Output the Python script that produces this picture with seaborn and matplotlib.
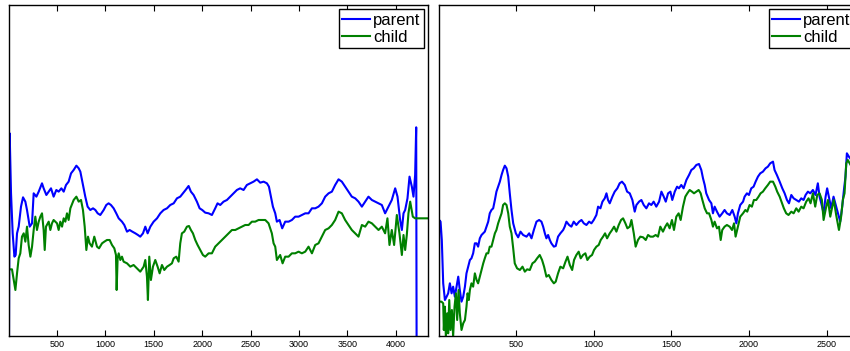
import matplotlib
matplotlib.use("Agg")
import matplotlib.pyplot as plt
import pandas as pd
import seaborn as sns

# ---- panel 1: long sequence ----
left_parent_x = [1, 11, 25, 42, 60, 73, 87, 104, 128, 149, 173, 190, 218, 242, 259, 287, 311, 345, 362, 390,
                 414, 438, 465, 493, 517, 545, 569, 593, 620, 645, 672, 700, 724, 741, 765, 792, 816, 844, 872, 896,
                 920, 947, 982, 1009, 1033, 1057, 1085, 1112, 1137, 1171, 1195, 1223, 1250, 1278, 1309, 1336, 1360, 1388, 1412, 1436,
                 1464, 1498, 1533, 1567, 1601, 1636, 1670, 1705, 1739, 1773, 1801, 1828, 1859, 1883, 1911, 1945, 1973, 2000, 2031, 2066,
                 2100, 2134, 2158, 2186, 2220, 2255, 2289, 2324, 2358, 2392, 2427, 2461, 2496, 2530, 2565, 2599, 2634, 2668, 2689, 2709,
                 2730, 2754, 2771, 2799, 2826, 2857, 2892, 2926, 2960, 2995, 3029, 3064, 3098, 3133, 3167, 3201, 3236, 3270, 3305, 3339,
                 3373, 3408, 3442, 3476, 3511, 3545, 3580, 3614, 3649, 3683, 3717, 3752, 3786, 3821, 3855, 3889, 3924, 3958, 3993, 4017,
                 4044, 4062, 4079, 4096, 4120, 4141, 4165, 4182, 4199, 4210, 4216]
left_parent_y = [-30, 60.8, 42.8, 30.8, 23.8, 24.3, 30.8, 32.8, 38.8, 41.6, 40.3, 37.8, 32.8, 33.8, 42.8, 41.8, 43.3, 45.8, 44.3, 42.3,
                 43.3, 44.3, 41.8, 43.8, 43.3, 44.3, 43.3, 45.3, 46.3, 48.8, 49.8, 51.1, 50.3, 49.3, 45.8, 41.8, 38.8, 37.8, 38.3, 37.8,
                 36.8, 36.3, 37.8, 39.3, 39.8, 39.3, 38.3, 36.8, 35.3, 34.3, 33.3, 31.3, 31.8, 31.3, 30.8, 30.3, 29.8, 30.8, 32.8, 30.8,
                 32.8, 34.3, 35.3, 36.8, 37.8, 38.3, 39.3, 39.8, 41.3, 41.8, 42.8, 43.8, 45.0, 43.3, 42.3, 40.3, 38.3, 37.8, 37.0, 36.8,
                 36.3, 38.3, 39.8, 39.3, 40.3, 40.8, 41.8, 42.8, 43.8, 44.3, 43.8, 45.3, 45.8, 46.3, 47.0, 46.0, 46.3, 45.8, 44.8, 41.8,
                 38.8, 36.8, 34.3, 34.8, 32.3, 34.3, 34.3, 34.8, 35.8, 35.8, 36.3, 36.8, 36.8, 38.3, 38.3, 38.8, 39.8, 41.8, 42.8, 43.3,
                 45.3, 47.0, 46.3, 44.8, 43.3, 41.8, 41.3, 40.3, 38.8, 40.3, 41.8, 40.8, 40.3, 39.8, 39.3, 36.8, 38.8, 40.8, 44.3, 41.8,
                 34.8, 31.8, 36.8, 37.8, 41.3, 47.8, 44.8, 41.8, 48.3, 62.6, -30]

left_child_x = [1, 35, 53, 70, 87, 104, 121, 138, 156, 173, 190, 207, 225, 242, 259, 276, 293, 311, 328, 345,
                362, 373, 386, 414, 431, 448, 465, 500, 517, 534, 552, 569, 586, 603, 620, 638, 672, 700, 724, 748,
                768, 786, 803, 820, 837, 861, 885, 913, 934, 965, 989, 1016, 1044, 1068, 1092, 1109, 1116, 1126, 1137, 1154,
                1171, 1188, 1223, 1257, 1291, 1326, 1360, 1395, 1412, 1429, 1439, 1453, 1470, 1491, 1515, 1539, 1560, 1584, 1608, 1636,
                1663, 1687, 1705, 1732, 1756, 1773, 1790, 1814, 1842, 1863, 1883, 1904, 1928, 1952, 1980, 2007, 2031, 2066, 2100, 2134,
                2169, 2203, 2238, 2272, 2307, 2341, 2375, 2410, 2444, 2479, 2513, 2547, 2582, 2616, 2651, 2685, 2719, 2737, 2754, 2771,
                2805, 2830, 2857, 2892, 2926, 2960, 2995, 3029, 3064, 3098, 3133, 3167, 3201, 3236, 3270, 3305, 3339, 3373, 3408, 3442,
                3476, 3511, 3545, 3580, 3614, 3649, 3683, 3717, 3752, 3786, 3821, 3855, 3889, 3913, 3934, 3958, 3982, 4010, 4037, 4062,
                4079, 4096, 4113, 4130, 4148, 4175, 4199, 4334]
left_child_y = [20.0, 20.0, 16.8, 13.8, 18.8, 23.3, 24.8, 29.8, 30.8, 28.3, 32.8, 27.3, 23.8, 26.8, 31.8, 35.8, 31.8, 34.3, 35.8, 36.8,
                31.8, 25.8, 32.8, 34.3, 31.8, 33.8, 34.8, 33.8, 31.8, 34.3, 32.8, 35.3, 34.3, 36.8, 34.8, 38.3, 40.8, 41.8, 40.3, 40.8,
                37.8, 32.8, 25.8, 29.8, 27.8, 26.8, 29.8, 26.8, 26.3, 27.8, 28.3, 28.8, 28.8, 27.3, 26.3, 24.3, 13.8, 23.3, 24.8, 22.8,
                23.8, 22.3, 21.8, 20.8, 21.3, 20.3, 19.3, 20.8, 22.8, 17.8, 10.8, 23.8, 16.8, 20.8, 22.8, 20.8, 18.8, 21.3, 19.8, 20.8,
                21.3, 21.8, 23.3, 23.8, 22.3, 27.8, 30.8, 31.3, 32.8, 33.0, 31.8, 30.8, 28.8, 27.3, 25.8, 24.3, 23.8, 24.8, 24.8, 26.8,
                27.8, 28.8, 29.8, 30.8, 31.8, 31.8, 32.3, 32.8, 33.3, 33.3, 34.3, 34.3, 34.8, 34.8, 34.8, 33.8, 30.8, 27.8, 26.8, 22.8,
                24.3, 21.8, 23.8, 23.8, 24.8, 24.8, 25.3, 24.8, 25.3, 26.8, 24.8, 27.3, 27.8, 29.8, 31.8, 32.3, 33.3, 34.8, 37.3, 36.8,
                34.8, 33.3, 31.8, 30.8, 29.8, 33.3, 32.8, 34.3, 33.8, 32.8, 31.8, 32.8, 30.8, 35.3, 27.3, 31.8, 27.3, 36.3, 30.8, 24.3,
                30.3, 25.8, 30.3, 36.8, 40.3, 35.8, 35.3, 35.3]

# ---- panel 2: shorter sequence ----
right_parent_x = [1, 4, 13, 21, 30, 41, 52, 62, 73, 84, 94, 105, 116, 127, 137, 148, 159, 170, 180, 191,
                  202, 212, 223, 234, 245, 255, 266, 277, 288, 298, 309, 320, 330, 341, 352, 363, 373, 384, 395, 406,
                  416, 427, 438, 449, 459, 470, 481, 498, 513, 528, 545, 567, 584, 599, 614, 631, 648, 663, 674, 685,
                  695, 706, 717, 727, 743, 755, 770, 785, 803, 813, 824, 841, 856, 871, 888, 906, 921, 936, 953, 970,
                  985, 1000, 1017, 1028, 1043, 1056, 1071, 1082, 1092, 1103, 1120, 1135, 1152, 1167, 1182, 1200, 1215, 1232, 1249, 1264,
                  1275, 1292, 1307, 1322, 1339, 1356, 1371, 1386, 1403, 1421, 1436, 1451, 1464, 1479, 1494, 1506, 1522, 1537, 1549, 1564,
                  1579, 1597, 1614, 1629, 1644, 1661, 1678, 1693, 1704, 1715, 1725, 1743, 1758, 1768, 1779, 1794, 1811, 1828, 1843, 1858,
                  1876, 1893, 1908, 1919, 1929, 1944, 1962, 1972, 1987, 2000, 2015, 2030, 2043, 2058, 2073, 2090, 2107, 2122, 2137, 2155,
                  2165, 2180, 2198, 2215, 2230, 2245, 2258, 2273, 2288, 2305, 2322, 2337, 2352, 2365, 2380, 2395, 2412, 2429, 2444, 2455,
                  2466, 2481, 2494, 2504, 2519, 2530, 2545, 2562, 2573, 2588, 2601, 2612, 2622, 2631, 2644, 2661]
right_parent_y = [-30, 34.8, 34.3, 28.8, 15.8, 10.8, 11.8, 12.8, 15.8, 12.8, 14.8, 11.8, 14.8, 17.8, 13.8, 10.3, 11.8, 14.8, 18.8, 20.8,
                  22.8, 23.3, 24.8, 27.8, 27.8, 26.8, 29.3, 30.3, 30.8, 31.3, 32.8, 34.3, 36.8, 37.8, 38.3, 40.8, 43.3, 44.8, 46.3, 48.3,
                  49.8, 51.1, 50.3, 47.8, 42.8, 37.8, 33.8, 30.8, 29.6, 31.3, 30.3, 29.8, 30.8, 29.3, 31.8, 34.3, 34.8, 34.3, 32.8, 30.8,
                  29.3, 30.3, 28.8, 27.8, 26.8, 27.0, 29.8, 30.8, 31.8, 32.8, 34.3, 33.3, 32.8, 34.3, 33.3, 34.3, 34.8, 33.8, 33.3, 34.3,
                  33.8, 34.8, 36.3, 38.8, 38.3, 40.3, 41.3, 42.8, 40.8, 39.8, 41.8, 43.3, 44.3, 45.8, 46.3, 45.3, 43.3, 42.8, 40.8, 37.3,
                  39.3, 40.3, 40.8, 39.3, 38.3, 39.8, 39.3, 40.3, 38.8, 40.3, 43.3, 41.8, 40.3, 42.8, 43.3, 40.8, 43.3, 44.8, 44.3, 45.3,
                  44.3, 46.8, 48.3, 49.8, 50.3, 51.3, 51.6, 49.8, 47.3, 45.3, 42.8, 40.8, 39.8, 36.8, 38.8, 37.3, 35.8, 36.8, 37.8, 36.8,
                  36.3, 37.8, 35.8, 33.8, 36.8, 39.3, 40.3, 41.8, 42.8, 42.3, 44.3, 44.8, 46.3, 47.8, 48.8, 49.3, 50.3, 50.8, 51.8, 52.3,
                  49.8, 48.3, 46.3, 44.3, 42.8, 40.8, 39.8, 42.3, 41.3, 40.8, 40.3, 41.3, 40.8, 42.3, 43.3, 42.8, 43.8, 42.3, 45.8, 41.8,
                  39.8, 36.8, 41.8, 44.3, 40.8, 38.3, 41.8, 38.8, 36.8, 34.3, 38.8, 43.8, 47.8, 54.8, 53.8, 52.8]

right_child_x = [1, 19, 30, 34, 41, 47, 56, 62, 69, 77, 86, 94, 103, 112, 120, 129, 137, 148, 159, 170,
                 180, 187, 195, 202, 212, 223, 234, 245, 255, 266, 277, 288, 298, 309, 320, 330, 341, 352, 363, 373,
                 384, 395, 406, 416, 427, 438, 449, 459, 470, 481, 491, 506, 524, 541, 556, 571, 588, 605, 620, 635,
                 652, 667, 680, 695, 710, 727, 743, 755, 770, 785, 803, 818, 831, 846, 861, 873, 888, 903, 916, 931,
                 946, 959, 974, 989, 1002, 1017, 1032, 1045, 1060, 1073, 1086, 1103, 1118, 1131, 1146, 1161, 1176, 1189, 1204, 1217,
                 1232, 1243, 1258, 1270, 1285, 1300, 1318, 1335, 1350, 1365, 1382, 1399, 1414, 1429, 1446, 1461, 1474, 1489, 1504, 1517,
                 1532, 1547, 1560, 1575, 1590, 1603, 1618, 1633, 1646, 1661, 1676, 1689, 1700, 1715, 1730, 1743, 1758, 1768, 1779, 1794,
                 1807, 1818, 1828, 1843, 1858, 1876, 1891, 1904, 1914, 1929, 1944, 1962, 1977, 1989, 2004, 2019, 2032, 2047, 2062, 2075,
                 2090, 2105, 2122, 2137, 2155, 2170, 2182, 2198, 2213, 2225, 2240, 2255, 2273, 2288, 2305, 2320, 2337, 2352, 2369, 2384,
                 2397, 2412, 2427, 2440, 2455, 2470, 2481, 2498, 2509, 2524, 2537, 2547, 2562, 2580, 2594, 2605, 2616, 2627, 2637, 2661]
right_child_y = [10.3, 10.3, 9.8, 1.8, 8.8, -0.2, 6.8, 0.8, 10.8, 1.8, 7.8, -0.2, 8.8, 12.8, 4.8, 13.8, 6.8, 1.8, 3.8, 4.8,
                 8.8, 12.8, 10.8, 13.8, 15.8, 14.8, 18.8, 16.8, 15.8, 17.8, 19.8, 21.8, 23.3, 24.8, 24.8, 26.8, 26.8, 28.8, 30.8, 31.8,
                 33.8, 35.3, 36.8, 39.3, 39.8, 39.3, 36.8, 32.8, 30.8, 26.3, 21.8, 20.3, 19.8, 20.8, 19.3, 20.0, 19.8, 21.8, 22.3, 23.3,
                 24.3, 22.8, 20.8, 17.8, 18.3, 16.8, 15.8, 16.3, 18.8, 20.8, 20.3, 22.3, 23.8, 21.3, 19.8, 22.8, 24.3, 25.3, 23.3, 24.3,
                 24.8, 22.8, 23.8, 24.3, 25.8, 26.8, 27.3, 28.8, 29.8, 30.8, 29.3, 30.8, 31.8, 32.8, 31.3, 33.3, 34.8, 35.3, 33.8, 32.3,
                 32.8, 34.8, 30.8, 26.8, 28.8, 29.8, 29.6, 28.8, 30.3, 29.8, 29.8, 30.3, 29.8, 32.8, 31.3, 32.8, 33.8, 32.3, 34.8, 31.8,
                 35.8, 36.8, 34.8, 38.8, 41.8, 42.8, 43.8, 43.3, 42.8, 43.3, 43.8, 42.8, 40.8, 38.3, 36.8, 36.8, 34.8, 32.8, 34.3, 32.3,
                 32.8, 28.8, 31.8, 32.8, 33.3, 32.8, 31.8, 33.8, 29.8, 32.8, 35.8, 36.8, 37.8, 37.3, 39.3, 38.8, 40.8, 40.8, 41.8, 42.8,
                 43.3, 44.3, 45.3, 46.3, 46.3, 44.8, 43.3, 41.8, 39.8, 38.3, 36.8, 36.3, 37.3, 36.8, 38.3, 37.3, 38.8, 38.3, 40.3, 41.3,
                 39.8, 42.8, 38.8, 42.3, 42.8, 40.8, 34.8, 38.8, 40.8, 35.8, 38.8, 40.8, 36.3, 31.8, 35.8, 40.8, 42.8, 51.8, 52.8, 50.8]

series_names = ["parent", "child"]
series_colors = {"parent": (0.0, 0.0, 1.0), "child": (0.0, 0.5, 0.0)}

left_ticks = [500, 1000, 1500, 2000, 2500, 3000, 3500, 4000]
right_ticks = [500, 1000, 1500, 2000, 2500]

plt.rcParams["font.family"] = ["Liberation Sans", "DejaVu Sans"]

W, H = 850, 351
fig = plt.figure(figsize=(W / 100, H / 100), dpi=100)

top_px, bot_px = 5.3, 336.0
ax_h = (bot_px - top_px) / H
ax_b = (H - bot_px) / H
ax_w = 419.5 / W
ax1 = fig.add_axes([8.7 / W, ax_b, ax_w, ax_h])
ax2 = fig.add_axes([438.7 / W, ax_b, ax_w, ax_h])


def draw_panel(ax, px, py, cx, cy, xmax, ticks):
    df = pd.concat([
        pd.DataFrame({"x": px, "y": py, "series": "parent"}),
        pd.DataFrame({"x": cx, "y": cy, "series": "child"}),
    ], ignore_index=True)
    for name in series_names:
        sns.lineplot(data=df[df["series"] == name], x="x", y="y", color=series_colors[name],
                     linewidth=1.5, estimator=None, sort=False, ax=ax, label=name, legend=False)
    ax.set_xlim(1, xmax)
    ax.set_ylim(0, 99.2)
    ax.set_xticks(ticks)
    ax.set_xticklabels([str(t) for t in ticks])
    ax.set_yticks([])
    ax.set_xlabel("")
    ax.set_ylabel("")
    ax.tick_params(axis="x", direction="in", length=4, width=0.8, top=True, bottom=True,
                   labelsize=6.5, pad=3, colors="black")
    for sp in ax.spines.values():
        sp.set_color("black")
        sp.set_linewidth(1.0)
    handles, labels = ax.get_legend_handles_labels()
    leg = ax.legend(handles, labels, loc="upper right", fontsize=12, frameon=True, fancybox=False,
                    handlelength=1.65, handletextpad=0.2, labelspacing=0.12, borderpad=0.2,
                    borderaxespad=0.25)
    leg.get_frame().set_edgecolor("black")
    leg.get_frame().set_linewidth(1.0)
    leg.get_frame().set_alpha(1.0)


draw_panel(ax1, left_parent_x, left_parent_y, left_child_x, left_child_y, 4334, left_ticks)
draw_panel(ax2, right_parent_x, right_parent_y, right_child_x, right_child_y, 2704, right_ticks)

fig.savefig("out.png", dpi=100)
